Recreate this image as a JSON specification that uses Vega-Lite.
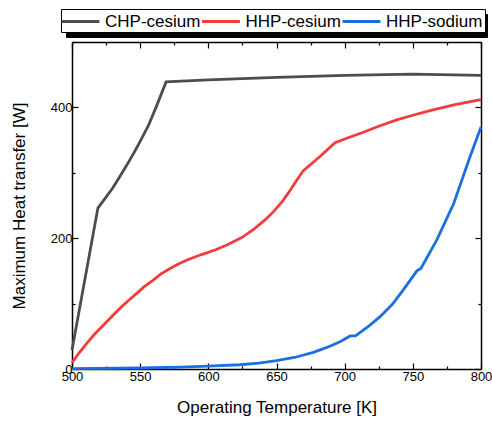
{
  "$schema": "https://vega.github.io/schema/vega-lite/v6.json",
  "width": 409,
  "height": 327,
  "autosize": "none",
  "padding": {"left": 72, "top": 42, "right": 11, "bottom": 52},
  "config": {
    "view": {"stroke": null},
    "font": "Liberation Sans",
    "axis": {
      "grid": false,
      "domainColor": "black",
      "domainWidth": 1.5,
      "tickColor": "black",
      "tickWidth": 1.2,
      "labelFont": "Liberation Sans",
      "labelFontSize": 13,
      "labelColor": "black",
      "labelFlush": false,
      "labelOverlap": false,
      "titleFont": "Liberation Sans",
      "titleFontSize": 17,
      "titleFontWeight": "normal",
      "titleColor": "black"
    }
  },
  "data": {
    "values": [
      {"series": "CHP-cesium", "T": 500, "W": 29},
      {"series": "CHP-cesium", "T": 519, "W": 246},
      {"series": "CHP-cesium", "T": 524, "W": 260},
      {"series": "CHP-cesium", "T": 530, "W": 277},
      {"series": "CHP-cesium", "T": 535, "W": 294},
      {"series": "CHP-cesium", "T": 540, "W": 311},
      {"series": "CHP-cesium", "T": 545, "W": 329},
      {"series": "CHP-cesium", "T": 550, "W": 348},
      {"series": "CHP-cesium", "T": 556, "W": 372},
      {"series": "CHP-cesium", "T": 562, "W": 402},
      {"series": "CHP-cesium", "T": 569, "W": 439},
      {"series": "CHP-cesium", "T": 600, "W": 442},
      {"series": "CHP-cesium", "T": 650, "W": 446},
      {"series": "CHP-cesium", "T": 700, "W": 449},
      {"series": "CHP-cesium", "T": 750, "W": 451},
      {"series": "CHP-cesium", "T": 800, "W": 449},
      {"series": "HHP-cesium", "T": 500, "W": 9.6},
      {"series": "HHP-cesium", "T": 505, "W": 24},
      {"series": "HHP-cesium", "T": 510.8, "W": 39},
      {"series": "HHP-cesium", "T": 516, "W": 52},
      {"series": "HHP-cesium", "T": 523, "W": 67},
      {"series": "HHP-cesium", "T": 529, "W": 80},
      {"series": "HHP-cesium", "T": 535.2, "W": 92.7},
      {"series": "HHP-cesium", "T": 541, "W": 104},
      {"series": "HHP-cesium", "T": 547.5, "W": 115.6},
      {"series": "HHP-cesium", "T": 553, "W": 126},
      {"series": "HHP-cesium", "T": 559.6, "W": 136},
      {"series": "HHP-cesium", "T": 565, "W": 145},
      {"series": "HHP-cesium", "T": 571.9, "W": 153.7},
      {"series": "HHP-cesium", "T": 578, "W": 160.5},
      {"series": "HHP-cesium", "T": 585.3, "W": 167.5},
      {"series": "HHP-cesium", "T": 595, "W": 175},
      {"series": "HHP-cesium", "T": 604.9, "W": 182},
      {"series": "HHP-cesium", "T": 614, "W": 190},
      {"series": "HHP-cesium", "T": 624.5, "W": 201},
      {"series": "HHP-cesium", "T": 633, "W": 213},
      {"series": "HHP-cesium", "T": 641.6, "W": 228},
      {"series": "HHP-cesium", "T": 648, "W": 241},
      {"series": "HHP-cesium", "T": 653.8, "W": 255},
      {"series": "HHP-cesium", "T": 659, "W": 270},
      {"series": "HHP-cesium", "T": 664, "W": 286},
      {"series": "HHP-cesium", "T": 669.5, "W": 303},
      {"series": "HHP-cesium", "T": 681.9, "W": 325},
      {"series": "HHP-cesium", "T": 692.9, "W": 346},
      {"series": "HHP-cesium", "T": 703, "W": 354},
      {"series": "HHP-cesium", "T": 713.7, "W": 362},
      {"series": "HHP-cesium", "T": 725.9, "W": 372},
      {"series": "HHP-cesium", "T": 738.2, "W": 381},
      {"series": "HHP-cesium", "T": 750, "W": 388},
      {"series": "HHP-cesium", "T": 762.6, "W": 395},
      {"series": "HHP-cesium", "T": 780, "W": 404},
      {"series": "HHP-cesium", "T": 800, "W": 412},
      {"series": "HHP-sodium", "T": 500, "W": 0.5},
      {"series": "HHP-sodium", "T": 550, "W": 1.5},
      {"series": "HHP-sodium", "T": 580, "W": 3},
      {"series": "HHP-sodium", "T": 600, "W": 4.5},
      {"series": "HHP-sodium", "T": 623, "W": 6.5},
      {"series": "HHP-sodium", "T": 637, "W": 9},
      {"series": "HHP-sodium", "T": 650, "W": 12.7},
      {"series": "HHP-sodium", "T": 664, "W": 18},
      {"series": "HHP-sodium", "T": 677, "W": 25.4},
      {"series": "HHP-sodium", "T": 687, "W": 33},
      {"series": "HHP-sodium", "T": 697, "W": 42},
      {"series": "HHP-sodium", "T": 704, "W": 50.5},
      {"series": "HHP-sodium", "T": 708, "W": 50.5},
      {"series": "HHP-sodium", "T": 718.6, "W": 67},
      {"series": "HHP-sodium", "T": 726, "W": 80},
      {"series": "HHP-sodium", "T": 735, "W": 99},
      {"series": "HHP-sodium", "T": 743, "W": 121},
      {"series": "HHP-sodium", "T": 753, "W": 150},
      {"series": "HHP-sodium", "T": 756, "W": 154},
      {"series": "HHP-sodium", "T": 767.5, "W": 197},
      {"series": "HHP-sodium", "T": 780, "W": 253},
      {"series": "HHP-sodium", "T": 792, "W": 325},
      {"series": "HHP-sodium", "T": 800, "W": 370}
    ]
  },
  "layer": [
    {
      "mark": {"type": "point", "opacity": 0},
      "encoding": {
        "x": {
          "field": "T", "type": "quantitative",
          "scale": {"domain": [500, 800], "nice": false, "padding": 0},
          "axis": {
            "orient": "top", "title": null, "labels": false,
            "values": [500, 525, 550, 575, 600, 625, 650, 675, 700, 725, 750, 775, 800],
            "tickSize": {"condition": {"test": "datum.value % 50 === 0", "value": -6}, "value": -3}
          }
        },
        "y": {
          "field": "W", "type": "quantitative",
          "scale": {"domain": [0, 500], "nice": false, "padding": 0},
          "axis": {
            "orient": "right", "title": null, "labels": false,
            "values": [0, 100, 200, 300, 400, 500],
            "tickSize": {"condition": {"test": "datum.value % 200 === 0", "value": -6}, "value": -3}
          }
        },
        "shape": {
          "field": "series", "type": "nominal",
          "scale": {"domain": ["HHP-sodium", "HHP-cesium", "CHP-cesium"], "range": ["M-2.1,0H2.1", "M-2.1,0H2.1", "M-2.1,0H2.1"]},
          "legend": {
            "orient": "none", "legendX": -6, "legendY": -28, "zindex": 1,
            "values": ["CHP-cesium"],
            "direction": "horizontal", "title": null, "gridAlign": "none",
            "symbolSize": 324, "symbolStrokeWidth": 3, "symbolOpacity": 0,
            "labelExpr": "' '",
            "labelFontSize": 17, "labelFont": "Liberation Sans", "labelOpacity": 0,
            "strokeColor": "black", "fillColor": "black",
            "padding": 2, "columnPadding": 0, "labelOffset": 396
          }
        }
      }
    },
    {
      "mark": {"type": "line", "strokeWidth": 2.8},
      "encoding": {
        "x": {
          "field": "T", "type": "quantitative",
          "scale": {"domain": [500, 800], "nice": false, "padding": 0},
          "axis": {
            "orient": "bottom",
            "title": "Operating Temperature [K]",
            "values": [500, 525, 550, 575, 600, 625, 650, 675, 700, 725, 750, 775, 800],
            "labelExpr": "datum.value % 50 === 0 ? datum.label : ''",
            "tickSize": {"condition": {"test": "datum.value % 50 === 0", "value": -6}, "value": -3},
            "labelPadding": 7,
            "titlePadding": 13
          }
        },
        "y": {
          "field": "W", "type": "quantitative",
          "scale": {"domain": [0, 500], "nice": false, "padding": 0},
          "axis": {
            "orient": "left",
            "title": "Maximum Heat transfer [W]",
            "values": [0, 100, 200, 300, 400, 500],
            "labelExpr": "datum.value % 200 === 0 ? datum.label : ''",
            "tickSize": {"condition": {"test": "datum.value % 200 === 0", "value": -6}, "value": -3},
            "labelPadding": 6,
            "titlePadding": 22
          }
        },
        "color": {
          "field": "series", "type": "nominal",
          "scale": {"domain": ["CHP-cesium", "HHP-cesium", "HHP-sodium"], "range": ["#4d4d4d", "#f03c3c", "#1c6fe0"]},
          "legend": {
            "orient": "none", "legendX": -11, "legendY": -33, "zindex": 2,
            "direction": "horizontal", "title": null, "gridAlign": "none",
            "symbolType": "M-2.1,0H2.1", "symbolSize": 324, "symbolStrokeWidth": 3, "symbolOffset": 7,
            "labelFontSize": 17, "labelFont": "Liberation Sans", "labelColor": "black",
            "strokeColor": "black", "fillColor": "white",
            "padding": 2, "columnPadding": -5.5, "labelOffset": 14
          }
        }
      }
    }
  ],
  "resolve": {"axis": {"x": "independent", "y": "independent"}}
}
